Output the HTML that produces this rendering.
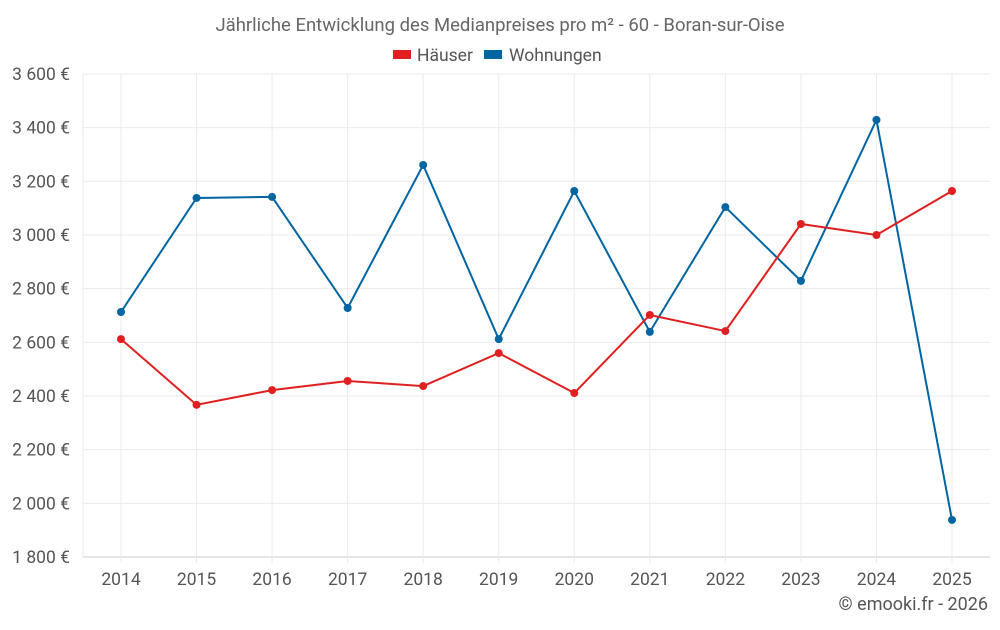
<!DOCTYPE html>
<html><head><meta charset="utf-8"><style>
body{margin:0;background:#fff;font-family:"Liberation Sans",sans-serif;}
svg text{font-family:"Roboto","Liberation Sans",sans-serif;}
</style></head><body>
<svg id="chart" width="1000" height="625">
<text x="500" y="31" text-anchor="middle" font-size="18.5" fill="#666">Jährliche Entwicklung des Medianpreises pro m² - 60 - Boran-sur-Oise</text>
<g>
<rect x="393" y="50" width="18" height="9" fill="#e02020"/>
<text x="417" y="61" font-size="17.5" fill="#555">Häuser</text>
<rect x="484" y="50" width="18" height="9" fill="#0065a0"/>
<text x="509" y="61" font-size="17.5" fill="#555">Wohnungen</text>
</g>
<g id="grid"></g><g id="axes"></g><g id="series"></g>
<text x="988" y="610" text-anchor="end" font-size="18" fill="#555">© emooki.fr - 2026</text>
</svg>
<script>
const years=[2014,2015,2016,2017,2018,2019,2020,2021,2022,2023,2024,2025];
const haeuser=[2612,2367,2422,2456,2437,2560,2411,2702,2642,3041,3000,3164];
const wohnungen=[2713,3138,3142,2728,3261,2612,3164,2639,3104,2829,3429,1938];
const yTicks=[1800,2000,2200,2400,2600,2800,3000,3200,3400,3600];
const NS="http://www.w3.org/2000/svg";
const x0=83,x1=990,y0=557,y1=74,yMin=1800,yMax=3600;
const xs=i=>121+i*(952-121)/(years.length-1);
const ys=v=>y0-(v-yMin)/(yMax-yMin)*(y0-y1);
function mk(t,a,p){const e=document.createElementNS(NS,t);for(const k in a)e.setAttribute(k,a[k]);p.appendChild(e);return e;}
const grid=document.getElementById('grid'),axes=document.getElementById('axes'),ser=document.getElementById('series');
const fmt=v=>{const s=String(v);return s.slice(0,s.length-3)+" "+s.slice(-3)+" €";};
yTicks.forEach(v=>{
 const l=mk('line',{x1:x0,x2:x1,y1:ys(v),y2:ys(v),stroke:v===yMin?'#ccc':'#ebebeb'},grid);
 
 
 const t=mk('text',{x:70,y:ys(v)+6,'text-anchor':'end','font-size':17.5,fill:'#555'},axes);
 t.textContent=fmt(v);
 
 
});
years.forEach((y,i)=>{
 const l=mk('line',{x1:xs(i),x2:xs(i),y1:y1,y2:y0+6,stroke:'#ebebeb'},grid);
 
 
 const t=mk('text',{x:xs(i),y:585,'text-anchor':'middle','font-size':17.5,fill:'#555'},axes);
 t.textContent=y;
 
 
});
const l0=mk('line',{x1:x0,x2:x0,y1:y1,y2:y0,stroke:'#ebebeb'},grid);


function draw(data,color,name){
 const p=mk('polyline',{points:data.map((v,i)=>xs(i)+','+ys(v)).join(' '),fill:'none',stroke:color,'stroke-width':2},ser);
 
 
 data.forEach((v,i)=>{
  const c=mk('circle',{cx:xs(i),cy:ys(v),r:4,fill:color},ser);
  
  
 });
}
draw(wohnungen,'#0065a0','wohnungen');
draw(haeuser,'#e02020','haeuser');
</script>
</body></html>
